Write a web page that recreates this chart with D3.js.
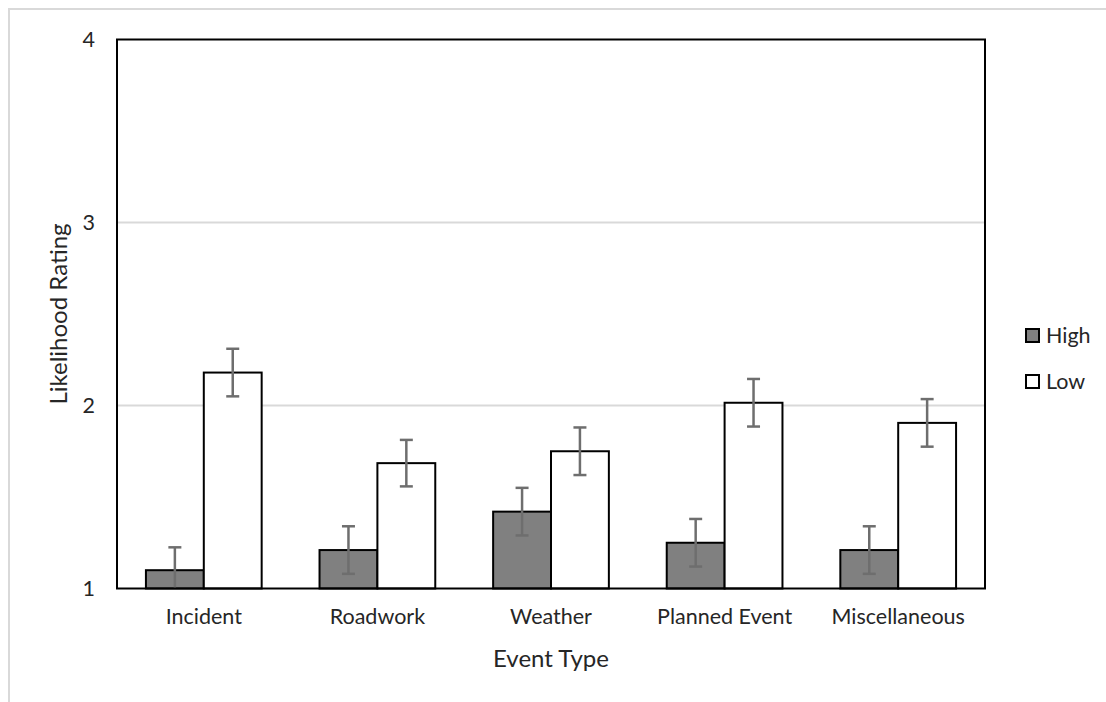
<!DOCTYPE html>
<html lang="en">
	<head>
		<meta charset="utf-8">
		<title>Likelihood Rating by Event Type</title>
		<script src="https://d3js.org/d3.v7.min.js"></script>
		<style type="text/css">
			body { margin: 0; background: #fff; }
			text { font-family: Lato, "Open Sans", sans-serif; fill: #262626; }
		</style>
	</head>
	<body>
		<script type="text/javascript">
			//Data
			var categories = ["Incident", "Roadwork", "Weather", "Planned Event", "Miscellaneous"];
			var seriesNames = ["High", "Low"];
			var highValues = [1.10, 1.21, 1.42, 1.25, 1.21];
			var highErrors = [0.125, 0.13, 0.13, 0.13, 0.13];
			var lowValues = [2.18, 1.685, 1.75, 2.015, 1.905];
			var lowErrors = [0.13, 0.127, 0.13, 0.13, 0.13];
			var yTicks = [1, 2, 3, 4];

			//Width and height
			var w = 1106;
			var h = 702;
			var plot = {left: 117, right: 985, top: 39.5, bottom: 588.5};

			var svg = d3.select("body")
						.append("svg")
						.attr("width", w)
						.attr("height", h);

			//outer chart border (only top and left show in the crop)
			svg.append("path")
				.attr("d", "M9,702 V9 H1106")
				.style("fill", "none")
				.style("stroke", "#d9d9d9")
				.style("stroke-width", 2);

			var y = d3.scaleLinear()
						.domain([1, 4])
						.range([plot.bottom, plot.top])
						.clamp(true);

			var x0 = d3.scaleBand()
						.domain(categories)
						.range([plot.left, plot.right])
						.paddingInner(1/3)
						.paddingOuter(1/6);

			var x1 = d3.scaleBand()
						.domain(seriesNames)
						.range([0, x0.bandwidth()]);

			var fills = {High: "#808080", Low: "#ffffff"};

			//gridlines
			svg.selectAll("line.grid")
				.data(yTicks.filter(function(d){ return d > 1 && d < 4; }))
				.enter()
				.append("line")
				.attr("class", "grid")
				.attr("x1", plot.left)
				.attr("x2", plot.right)
				.attr("y1", function(d){ return y(d); })
				.attr("y2", function(d){ return y(d); })
				.style("stroke", "#d9d9d9")
				.style("stroke-width", 2);

			var rows = categories.map(function(c, i){
				return [
					{cat: c, s: "High", v: highValues[i], e: highErrors[i]},
					{cat: c, s: "Low", v: lowValues[i], e: lowErrors[i]}
				];
			});
			var flat = d3.merge(rows);

			//bars
			svg.selectAll("rect.bar")
				.data(flat)
				.enter()
				.append("rect")
				.attr("class", "bar")
				.attr("x", function(d){ return x0(d.cat) + x1(d.s); })
				.attr("y", function(d){ return y(d.v); })
				.attr("width", x1.bandwidth())
				.attr("height", function(d){ return y(1) - y(d.v); })
				.style("fill", function(d){ return fills[d.s]; })
				.style("stroke", "#000")
				.style("stroke-width", 2);

			//error bars
			var capHalf = 6.5;
			var eb = svg.selectAll("g.err")
				.data(flat)
				.enter()
				.append("g")
				.attr("class", "err")
				.attr("transform", function(d){ return "translate(" + (x0(d.cat) + x1(d.s) + x1.bandwidth()/2) + ",0)"; })
				.style("stroke", "#6e6e6e")
				.style("stroke-width", 2.5);
			eb.append("line")
				.attr("y1", function(d){ return y(d.v + d.e); })
				.attr("y2", function(d){ return y(d.v - d.e); });
			eb.append("line")
				.attr("x1", -capHalf).attr("x2", capHalf)
				.attr("y1", function(d){ return y(d.v + d.e); })
				.attr("y2", function(d){ return y(d.v + d.e); });
			eb.filter(function(d){ return d.v - d.e > 1; })
				.append("line")
				.attr("x1", -capHalf).attr("x2", capHalf)
				.attr("y1", function(d){ return y(d.v - d.e); })
				.attr("y2", function(d){ return y(d.v - d.e); });

			//plot area frame
			svg.append("rect")
				.attr("x", plot.left)
				.attr("y", plot.top)
				.attr("width", plot.right - plot.left)
				.attr("height", plot.bottom - plot.top)
				.style("fill", "none")
				.style("stroke", "#000")
				.style("stroke-width", 2);

			//y axis labels
			var yAxis = d3.axisLeft(y).tickValues(yTicks).tickSize(0).tickPadding(22).tickFormat(d3.format("d"));
			var gy = svg.append("g")
				.attr("transform", "translate(" + plot.left + ",0)")
				.call(yAxis);
			gy.select(".domain").remove();
			gy.selectAll("text").style("font-size", "21.5px").style("font-family", null);

			//x axis labels
			var xAxis = d3.axisBottom(x0).tickSize(0).tickPadding(20);
			var gx = svg.append("g")
				.attr("transform", "translate(0," + plot.bottom + ")")
				.call(xAxis);
			gx.select(".domain").remove();
			gx.selectAll("text").style("font-size", "21.5px").style("font-family", null);

			//axis titles
			svg.append("text")
				.attr("x", (plot.left + plot.right)/2)
				.attr("y", 667)
				.attr("text-anchor", "middle")
				.style("font-size", "24px")
				.text("Event Type");

			svg.append("text")
				.attr("transform", "translate(67," + ((plot.top + plot.bottom)/2) + ") rotate(-90)")
				.attr("text-anchor", "middle")
				.style("font-size", "24px")
				.text("Likelihood Rating");

			//legend
			var legend = svg.selectAll("g.legend")
				.data(seriesNames)
				.enter()
				.append("g")
				.attr("class", "legend")
				.attr("transform", function(d, i){ return "translate(1026," + (329 + i*46) + ")"; });
			legend.append("rect")
				.attr("width", 13)
				.attr("height", 13)
				.style("fill", function(d){ return fills[d]; })
				.style("stroke", "#000")
				.style("stroke-width", 2);
			legend.append("text")
				.attr("x", 20)
				.attr("y", 14)
				.style("font-size", "21.5px")
				.text(function(d){ return d; });
		</script>
	</body>
</html>
